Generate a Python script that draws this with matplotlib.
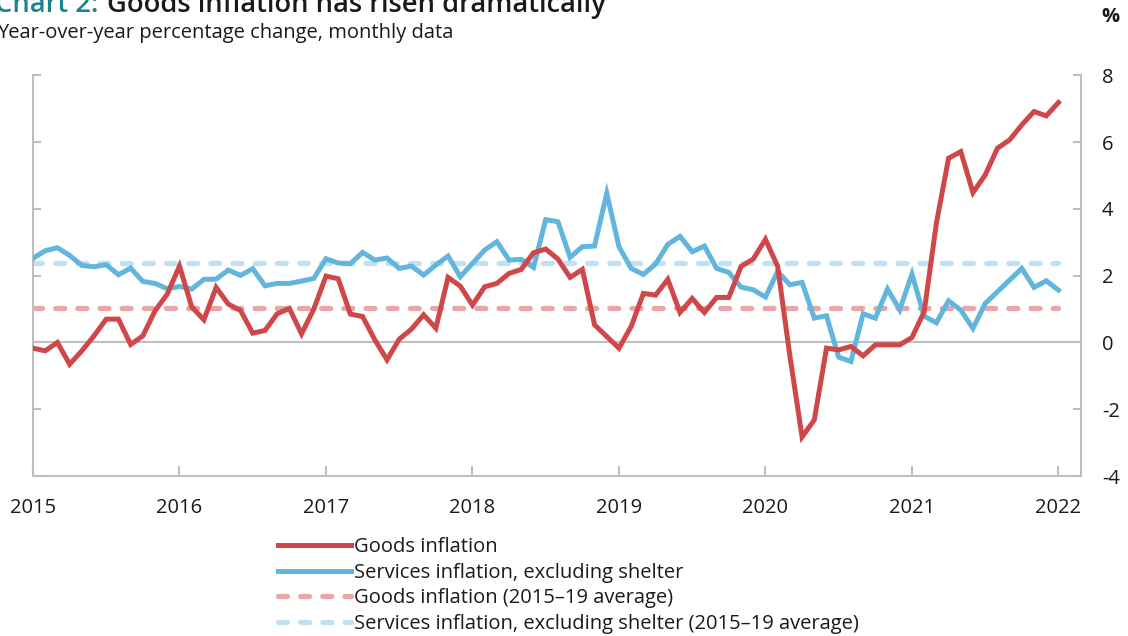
import matplotlib
matplotlib.use("Agg")
import matplotlib.pyplot as plt
import numpy as np

plt.rcParams['font.family'] = ['Open Sans', 'DejaVu Sans']
plt.rcParams['axes.unicode_minus'] = False

# ---- data (monthly, Jan 2015 - Jan 2022) ----
start_year = 2015
goods = [
    -0.17, -0.25, 0.00, -0.65, -0.25, 0.20, 0.70, 0.70, -0.06, 0.20, 0.95, 1.45,   # 2015
    2.29, 1.07, 0.68, 1.65, 1.15, 0.96, 0.28, 0.36, 0.86, 1.02, 0.26, 1.00,        # 2016
    1.99, 1.91, 0.85, 0.78, 0.08, -0.52, 0.10, 0.40, 0.83, 0.43, 1.95, 1.69,       # 2017
    1.12, 1.67, 1.77, 2.07, 2.19, 2.69, 2.80, 2.50, 1.95, 2.19, 0.53, 0.18,        # 2018
    -0.17, 0.48, 1.47, 1.42, 1.89, 0.90, 1.32, 0.90, 1.35, 1.35, 2.28, 2.50,       # 2019
    3.09, 2.28, -0.40, -2.83, -2.32, -0.17, -0.22, -0.12, -0.40, -0.07, -0.07, -0.07,  # 2020
    0.15, 0.92, 3.57, 5.52, 5.72, 4.49, 5.02, 5.82, 6.07, 6.52, 6.92, 6.79,        # 2021
    7.19,                                                                          # 2022
]
services = [
    2.52, 2.75, 2.84, 2.61, 2.31, 2.27, 2.33, 2.03, 2.23, 1.83, 1.77, 1.61,        # 2015
    1.68, 1.60, 1.89, 1.90, 2.17, 2.01, 2.21, 1.70, 1.77, 1.77, 1.84, 1.92,        # 2016
    2.51, 2.38, 2.36, 2.70, 2.47, 2.53, 2.22, 2.29, 2.02, 2.32, 2.59, 1.97,        # 2017
    2.37, 2.77, 3.02, 2.47, 2.49, 2.25, 3.68, 3.62, 2.55, 2.87, 2.89, 4.47,        # 2018
    2.87, 2.22, 2.04, 2.35, 2.94, 3.18, 2.72, 2.89, 2.22, 2.10, 1.66, 1.58,        # 2019
    1.36, 2.13, 1.73, 1.80, 0.73, 0.80, -0.44, -0.57, 0.86, 0.73, 1.60, 0.98,      # 2020
    2.05, 0.79, 0.59, 1.25, 0.97, 0.42, 1.17, 1.52, 1.87, 2.22, 1.65, 1.85,        # 2021
    1.57,                                                                          # 2022
]
goods_avg = 1.03
services_avg = 2.37

year_ticks = [2015, 2016, 2017, 2018, 2019, 2020, 2021, 2022]
y_ticks = [-4, -2, 0, 2, 4, 6, 8]

labels = [
    "Goods inflation",
    "Services inflation, excluding shelter",
    "Goods inflation (2015\u201319 average)",
    "Services inflation, excluding shelter (2015\u201319 average)",
]

title_prefix = "Chart 2:"
title_main = "Goods inflation has risen dramatically"
subtitle = "Year-over-year percentage change, monthly data"

# ---- styling ----
RED = "#d0474a"
BLUE = "#62b6dd"
RED_LIGHT = "#e8a6a6"
BLUE_LIGHT = "#c0e1f2"
TEAL = "#1b8290"
GRID = "#bfbfbf"
TXT = "#1a1a1a"
FS = 14.5

W, H = 1128, 636
fig = plt.figure(figsize=(W / 100, H / 100), dpi=100)
ax = fig.add_axes([33 / W, 1 - 476 / H, (1081 - 33) / W, (476 - 75.5) / H])

x = start_year + np.arange(len(goods)) / 12.0
dash = (0, (1.7, 2.5))
ax.plot(x, [goods_avg] * len(x), color=RED_LIGHT, lw=3.8,
        linestyle=dash, dash_capstyle='round', label=labels[2], zorder=2)
ax.plot(x, [services_avg] * len(x), color=BLUE_LIGHT, lw=3.8,
        linestyle=dash, dash_capstyle='round', label=labels[3], zorder=2)
ax.axhline(0, color=GRID, lw=1.5, zorder=1)
ax.plot(x, goods, color=RED, lw=3.6, solid_joinstyle='miter', label=labels[0], zorder=4)
ax.plot(x, services, color=BLUE, lw=3.6, solid_joinstyle='miter', label=labels[1], zorder=3)

ax.set_xlim(2015, 2022.154)
ax.set_ylim(-4, 8)
ax.set_xticks(year_ticks)
ax.set_xticklabels([str(y) for y in year_ticks])
ax.set_yticks(y_ticks)
ax.set_yticklabels([str(v) for v in y_ticks])

for s in ['left', 'right', 'bottom']:
    ax.spines[s].set_color(GRID)
    ax.spines[s].set_linewidth(1.5)
ax.spines['top'].set_visible(False)

ax.tick_params(axis='y', which='both', left=True, right=True, labelleft=False,
               labelright=True, direction='in', length=6, width=1.5, color=GRID,
               labelsize=FS, pad=15, labelcolor=TXT)
ax.tick_params(axis='x', direction='in', length=7, width=1.5, color=GRID,
               labelsize=FS, pad=16, labelcolor=TXT)

# titles
fig.text(98 / W, 1 - 12 / H, title_prefix, color=TEAL, fontsize=19.7, fontweight='semibold',
         ha='right', va='baseline')
fig.text(107 / W, 1 - 12 / H, title_main, color=TXT, fontsize=19.7, fontweight='semibold',
         ha='left', va='baseline')
fig.text(-3 / W, 1 - 38 / H, subtitle, color=TXT, fontsize=FS, ha='left', va='baseline')
fig.text(1110 / W, 1 - 17 / H, "%", color=TXT, fontsize=FS, fontweight='bold',
         ha='center', va='center')

# legend
handles, labs = ax.get_legend_handles_labels()
hmap = dict(zip(labs, handles))
leg = fig.legend([hmap[l] for l in labels], labels, loc='upper left',
                 bbox_to_anchor=(278 / W, 1 - 537 / H), frameon=False, fontsize=FS,
                 handlelength=3.6, handletextpad=0.15, labelspacing=0.28,
                 borderaxespad=0, borderpad=0)
for t in leg.get_texts():
    t.set_color(TXT)

fig.savefig("out.png", dpi=100)
